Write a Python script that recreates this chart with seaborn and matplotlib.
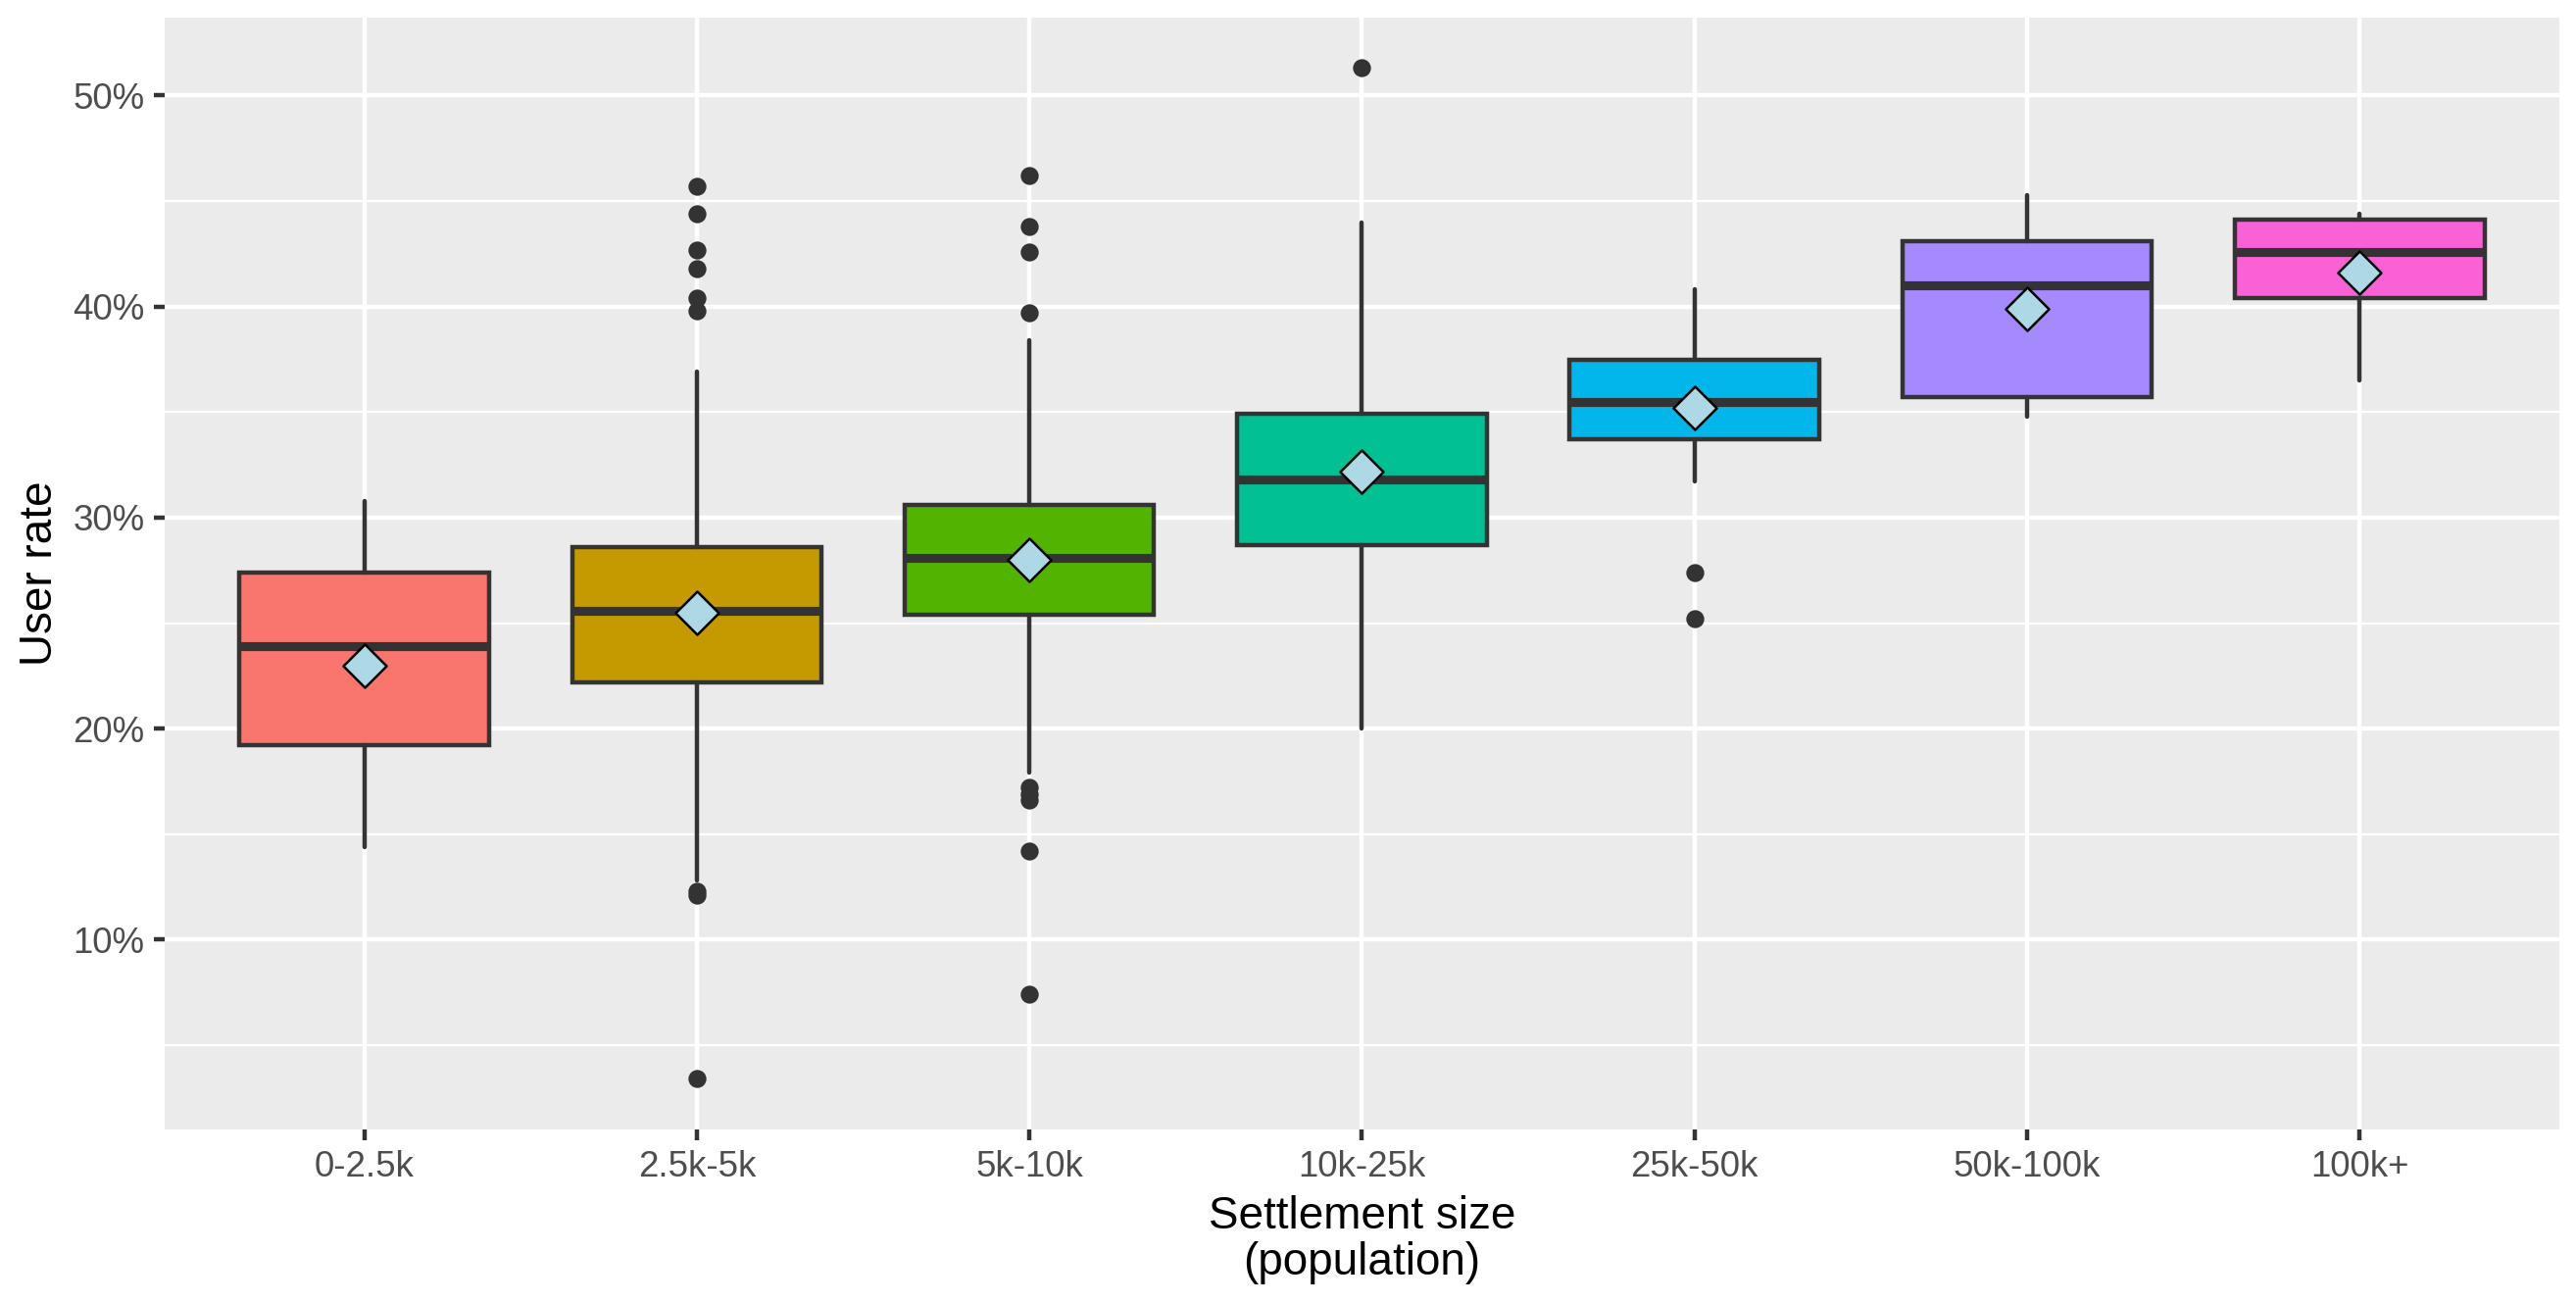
import matplotlib
matplotlib.use("Agg")
import numpy as np
import pandas as pd
import matplotlib.pyplot as plt
from matplotlib.ticker import PercentFormatter, MultipleLocator
import seaborn as sns

# values (percent)
cats = ["0-2.5k", "2.5k-5k", "5k-10k", "10k-25k", "25k-50k", "50k-100k", "100k+"]
whislo = [14.4, 12.8, 17.9, 20.0, 31.7, 34.8, 36.5]
q1 = [19.2, 22.2, 25.4, 28.7, 33.7, 35.7, 40.4]
med = [23.9, 25.6, 28.1, 31.8, 35.5, 41.0, 42.6]
q3 = [27.4, 28.6, 30.6, 34.9, 37.5, 43.1, 44.1]
whishi = [30.8, 36.9, 38.4, 44.0, 40.8, 45.3, 44.4]
means = [23.0, 25.5, 28.0, 32.2, 35.2, 39.9, 41.6]
outliers = [
    [],
    [45.7, 44.4, 42.7, 41.8, 40.4, 39.8, 12.3, 12.1, 3.4],
    [46.2, 43.8, 42.6, 39.7, 17.2, 16.9, 16.6, 14.2, 7.4],
    [51.3],
    [27.4, 25.2],
    [],
    [],
]
pal = ["#F8766D", "#C49A00", "#53B400", "#00C094", "#00B6EB", "#A58AFF", "#FB61D7"]

sns.set_theme(style="darkgrid", rc={
    "axes.facecolor": "#EBEBEB",
    "grid.color": "white",
    "axes.edgecolor": "#EBEBEB",
})
plt.rcParams['font.family'] = ['Liberation Sans', 'DejaVu Sans']

fig, ax = plt.subplots(figsize=(8.76, 4.43), dpi=300)
fig.subplots_adjust(left=0.0639, right=0.9935, top=0.9865, bottom=0.1332)

stats = []
for i, c in enumerate(cats):
    stats.append(dict(label=c, whislo=whislo[i], q1=q1[i], med=med[i],
                      q3=q3[i], whishi=whishi[i], fliers=outliers[i]))

line_col = "#333333"
bp = ax.bxp(stats, positions=range(len(cats)), widths=0.75, patch_artist=True,
            showcaps=False,
            boxprops=dict(edgecolor=line_col, linewidth=1.07),
            medianprops=dict(color=line_col, linewidth=2.2, solid_capstyle="butt"),
            whiskerprops=dict(color=line_col, linewidth=1.07),
            flierprops=dict(marker="o", markerfacecolor=line_col,
                            markeredgecolor=line_col, markersize=3.4))
for patch, col in zip(bp["boxes"], pal):
    patch.set_facecolor(col)

# mean diamonds
mean_df = pd.DataFrame({"x": range(len(cats)), "mean": means})
sns.scatterplot(data=mean_df, x="x", y="mean", marker="D", s=56,
                color="#ADD8E6", edgecolor="black", linewidth=0.6,
                zorder=5, ax=ax, legend=False)

# limits like ggplot (5% expansion)
allv = whislo + whishi + [v for o in outliers for v in o]
lo, hi = min(allv), max(allv)
pad = (hi - lo) * 0.05
ax.set_ylim(lo - pad, hi + pad)
ax.set_xlim(-0.6, len(cats) - 0.4)

ax.set_xticks(range(len(cats)))
ax.set_xticklabels(cats)
ax.yaxis.set_major_locator(MultipleLocator(10))
ax.yaxis.set_minor_locator(MultipleLocator(5))
ax.yaxis.set_major_formatter(PercentFormatter(decimals=0))

ax.set_axisbelow(True)
ax.grid(which="major", color="white", linewidth=1.07)
ax.grid(which="minor", axis="y", color="white", linewidth=0.53)
ax.grid(which="minor", axis="x", visible=False)
for s in ax.spines.values():
    s.set_visible(False)

ax.tick_params(axis="both", which="major", length=2.75, width=1.07,
               color=line_col, labelcolor="#4D4D4D", labelsize=8.8, pad=2.2,
               bottom=True, left=True)
ax.tick_params(axis="y", which="minor", length=0)

ax.set_xlabel("Settlement size\n(population)", fontsize=11, color="black",
              labelpad=2.75, linespacing=1.08)
ax.set_ylabel("User rate", fontsize=11, color="black", labelpad=2.75)

fig.savefig("out.png", dpi=300)
